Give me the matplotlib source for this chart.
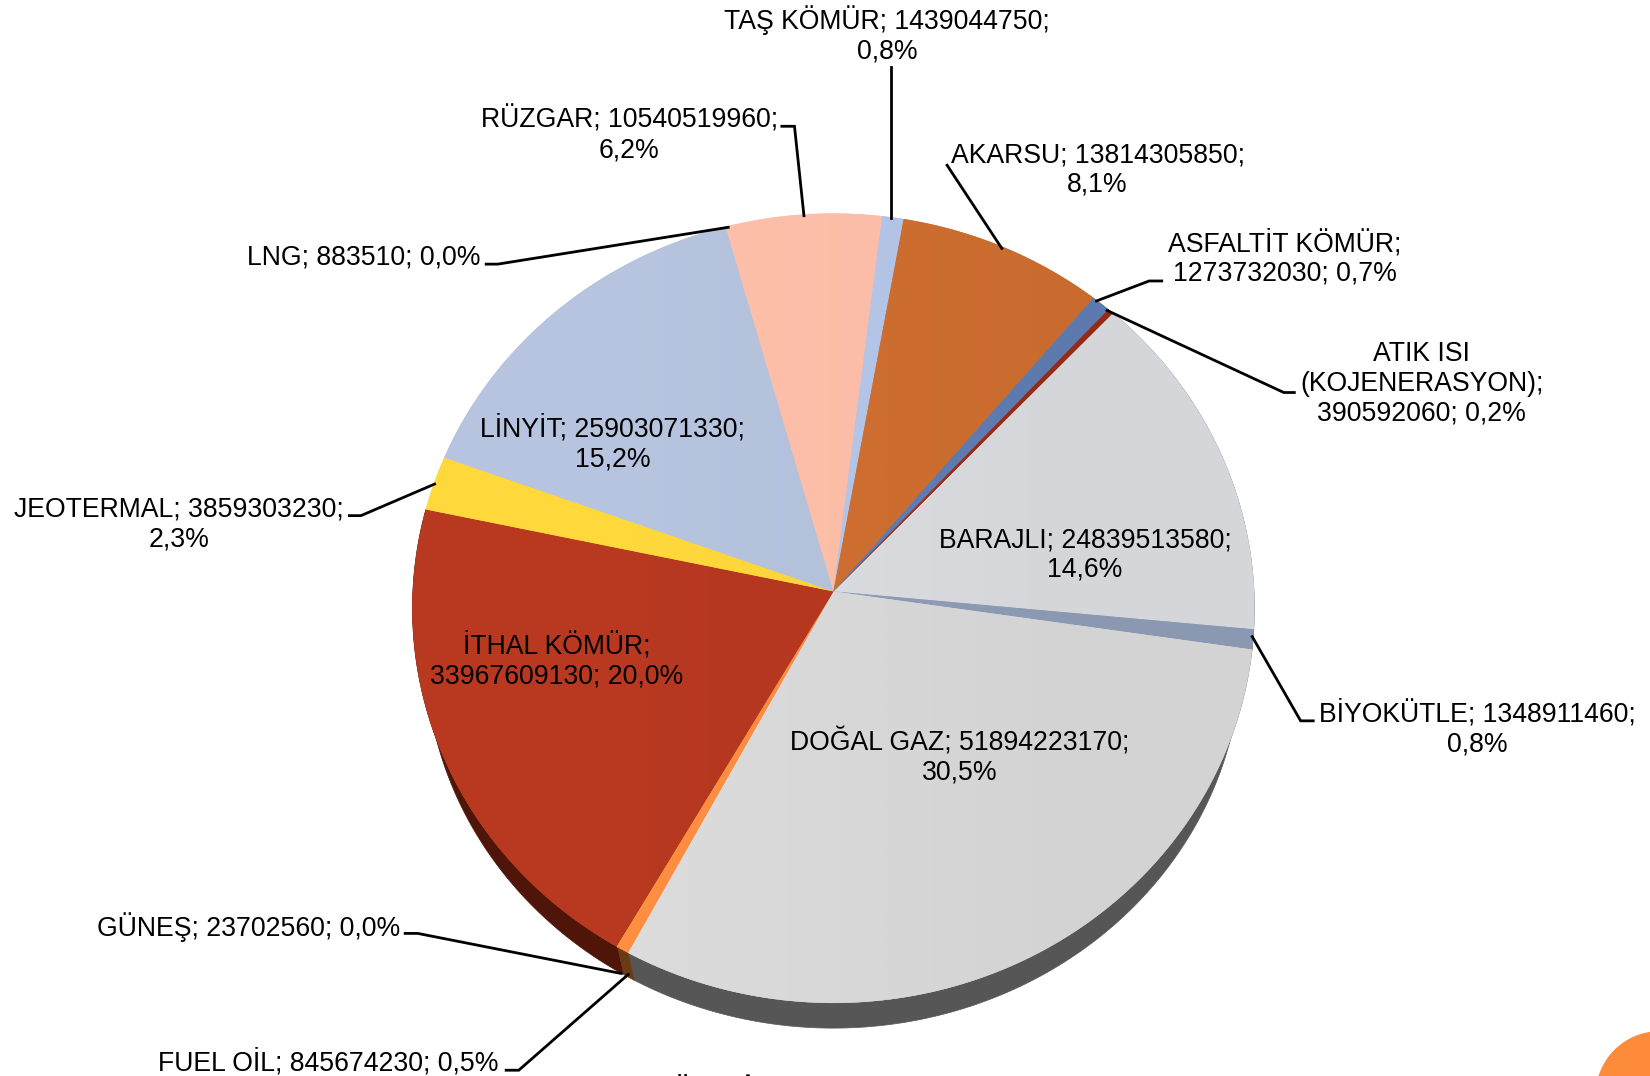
import numpy as np
import matplotlib
matplotlib.use('Agg')
import matplotlib.pyplot as plt
from matplotlib.colors import to_rgb
from matplotlib.patches import Circle

plt.rcParams['font.family'] = ['Liberation Sans', 'DejaVu Sans']

# clockwise around the pie, starting at BARAJLI
names = ['BARAJLI', 'BİYOKÜTLE', 'DOĞAL GAZ', 'FUEL OİL', 'GÜNEŞ', 'İTHAL KÖMÜR', 'JEOTERMAL',
         'LİNYİT', 'LNG', 'RÜZGAR', 'TAŞ KÖMÜR', 'AKARSU', 'ASFALTİT KÖMÜR', 'ATIK ISI']
values = [24839513580, 1348911460, 51894223170, 845674230, 23702560, 33967609130, 3859303230,
          25903071330, 883510, 10540519960, 1439044750, 13814305850, 1273732030, 390592060]
percents = ['14,6%', '0,8%', '30,5%', '0,5%', '0,0%', '20,0%', '2,3%',
            '15,2%', '0,0%', '6,2%', '0,8%', '8,1%', '0,7%', '0,2%']

top_colors = ['#d9dade', '#8e9bb5', '#d7d7d7', '#fd8b3f', '#7a2a18', '#b43720', '#fcd43a',
              '#b3c0da', '#b3c0da', '#fdbda7', '#b4c4e6', '#cd6d30', '#5f7cb2', '#9a2b17']
side_colors = ['#6b6c6f', '#474d5a', '#565656', '#6b3a14', '#3d150c', '#4f1508', '#7e6a1d',
               '#596d6d', '#596d6d', '#7e5e53', '#5a6273', '#663618', '#2f3e59', '#4d150b']

# label centre x, y, the text lines, leader line points (in 1568 wide picture units)
labels = {
    'BARAJLI': (1031, 527.5, 'BARAJLI; 24839513580;\n14,6%', None),
    'BİYOKÜTLE': (1404, 692.5, 'BİYOKÜTLE; 1348911460;\n0,8%', [(1248, 685), (1236, 685), (1190, 605)]),
    'DOĞAL GAZ': (912, 719.5, 'DOĞAL GAZ; 51894223170;\n30,5%', None),
    'FUEL OİL': (312, 1009.5, 'FUEL OİL; 845674230; 0,5%', [(481, 1017), (493, 1017), (597, 926)]),
    'GÜNEŞ': (236, 881, 'GÜNEŞ; 23702560; 0,0%', [(385, 887), (397, 887), (590, 925)]),
    'İTHAL KÖMÜR': (529, 628, 'İTHAL KÖMÜR;\n33967609130; 20,0%', None),
    'JEOTERMAL': (170, 498.5, 'JEOTERMAL; 3859303230;\n2,3%', [(332, 490), (343, 490), (413, 460)]),
    'LİNYİT': (582, 421.5, 'LİNYİT; 25903071330;\n15,2%', None),
    'LNG': (346, 244.5, 'LNG; 883510; 0,0%', [(462, 251), (473, 251), (692, 216)]),
    'RÜZGAR': (598, 128, 'RÜZGAR; 10540519960;\n6,2%', [(743, 120), (755, 120), (764, 205)]),
    'TAŞ KÖMÜR': (843, 33, 'TAŞ KÖMÜR; 1439044750;\n0,8%', [(847, 64), (847, 207)]),
    'AKARSU': (1043, 161.5, 'AKARSU; 13814305850;\n8,1%', [(900, 157), (952, 236)]),
    'ASFALTİT KÖMÜR': (1221, 245.5, 'ASFALTİT KÖMÜR;\n1273732030; 0,7%', [(1104, 267), (1092, 267), (1042, 286)]),
    'ATIK ISI': (1351, 365, 'ATIK ISI\n(KOJENERASYON);\n390592060; 0,2%', [(1230, 373), (1220, 373), (1052, 295)]),
}

# pie geometry
apex = (792, 562)
cx, cy, a, b = 792, 578, 400, 375
cy2, a2, b2 = 619, 388, 358
start_angle = 313.5
# how far the 3D view pushes a slice edge, in degrees
view_angles = [6, 119, 194, 257, 279, 313.5]
view_shift = [-3.0, 0.5, 2.1, -0.3, -1.1, -1.9]


def rim(t, x0, y0, ax_a, ax_b):
    return x0 + ax_a * np.cos(t), y0 + ax_b * np.sin(t)


fig = plt.figure(figsize=(16.5, 10.76), dpi=100)
ax = fig.add_axes([0, 0, 1, 1])

fractions = np.array(values) / np.sum(values)
edges = start_angle + 360 * np.concatenate([[0], np.cumsum(fractions)])
edges = np.radians(edges + np.interp(edges, view_angles, view_shift, period=360))

# side of the pie first, the top goes over it
for i in range(len(values)):
    t = np.linspace(edges[i], edges[i + 1], 200)
    x1, y1 = rim(t, cx, cy, a, b)
    x2, y2 = rim(t, cx, cy2, a2, b2)
    if np.all(np.sin(t) < 0):
        continue
    ax.fill(np.r_[x1, x2[::-1]], np.r_[y1, y2[::-1]], color=side_colors[i], lw=0.5, zorder=1)

# top of the pie, a little lighter on the left
for i in range(len(values)):
    t = np.linspace(edges[i], edges[i + 1], 200)
    x1, y1 = rim(t, cx, cy, a, b)
    wedge = ax.fill(np.r_[apex[0], x1], np.r_[apex[1], y1], color=top_colors[i], lw=0.3, zorder=2)[0]
    base = np.array(to_rgb(top_colors[i]))
    shade = np.clip(np.array([base * 1.025, base * 0.985]), 0, 1)
    im = ax.imshow(shade[None, :, :], extent=(cx - a, cx + a, cy + b, cy - b), aspect='auto',
                   interpolation='bilinear', zorder=2.1)
    im.set_clip_path(wedge)

for name in names:
    x, y, text, leader = labels[name]
    ax.text(x, y, text, ha='center', va='center', fontsize=19.2, linespacing=1.18, color='black', zorder=5)
    if leader:
        ax.plot([p[0] for p in leader], [p[1] for p in leader], color='black', lw=2.0, zorder=4,
                solid_joinstyle='miter')

# cut off parts of the slide behind the chart
ax.add_patch(Circle((1577, 1040.6), 60, color='#fd8b3a', zorder=3))
ax.text(639, 1024.5, 'ÜRETİM', ha='left', va='top', fontsize=19.2, fontweight='bold', zorder=5)

ax.set_xlim(0, 1568)
ax.set_ylim(1022.5, 0)
ax.axis('off')

fig.savefig('out.png', dpi=100)
